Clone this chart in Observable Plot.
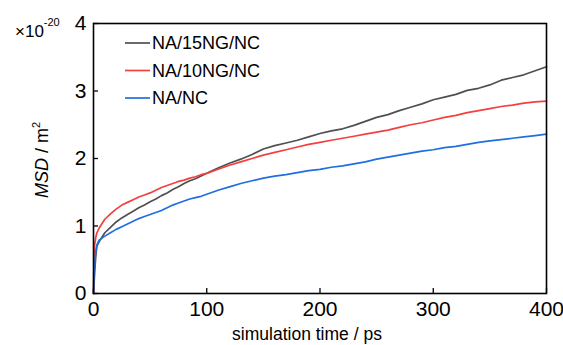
<!DOCTYPE html>
<html>
<head>
<meta charset="utf-8">
<script src="https://cdn.jsdelivr.net/npm/d3@7"></script>
<script src="https://cdn.jsdelivr.net/npm/@observablehq/plot@0.6"></script>
<style>
  html, body { margin: 0; padding: 0; background: white; }
  #chart { position: relative; width: 563px; height: 345px; }
</style>
</head>
<body>
<div id="chart"></div>
<script>
// ---- data ----
const seriesNames = ["NA/15NG/NC", "NA/10NG/NC", "NA/NC"];
const seriesColors = ["#505050", "#f2403f", "#1f6fe0"];

const time = [0, 0.5, 1, 2, 3, 5, 10, 15, 20, 25, 30, 35, 40, 45, 50, 55, 60, 65, 70, 75, 80, 85, 90, 95, 100,
  110, 120, 130, 140, 150, 160, 170, 180, 190, 200, 210, 220, 230, 240, 250, 260, 270, 280, 290, 300,
  310, 320, 330, 340, 350, 360, 370, 380, 390, 400];

const msd15NG = [0, 0.15, 0.3, 0.55, 0.7, 0.77, 0.9, 0.98, 1.06, 1.12, 1.17, 1.22, 1.27, 1.31, 1.36, 1.40, 1.45, 1.49, 1.54, 1.58, 1.63, 1.67, 1.70, 1.74, 1.78,
  1.86, 1.93, 1.99, 2.06, 2.14, 2.19, 2.23, 2.27, 2.32, 2.37, 2.41, 2.44, 2.49, 2.55, 2.61, 2.65, 2.71, 2.76, 2.81, 2.87,
  2.91, 2.95, 3.01, 3.04, 3.09, 3.16, 3.20, 3.24, 3.30, 3.36];

const msd10NG = [0, 0.6, 0.72, 0.83, 0.9, 0.97, 1.10, 1.18, 1.25, 1.31, 1.35, 1.39, 1.43, 1.46, 1.49, 1.53, 1.57, 1.60, 1.63, 1.66, 1.68, 1.71, 1.73, 1.76, 1.78,
  1.84, 1.90, 1.95, 2.00, 2.05, 2.09, 2.13, 2.17, 2.21, 2.24, 2.27, 2.30, 2.33, 2.36, 2.39, 2.42, 2.46, 2.50, 2.53, 2.57,
  2.61, 2.64, 2.68, 2.71, 2.74, 2.77, 2.79, 2.82, 2.84, 2.85];

const msdNC = [0, 0.3, 0.45, 0.62, 0.72, 0.79, 0.85, 0.90, 0.95, 0.99, 1.03, 1.07, 1.11, 1.14, 1.17, 1.20, 1.23, 1.27, 1.31, 1.34, 1.37, 1.40, 1.42, 1.44, 1.47,
  1.53, 1.58, 1.63, 1.67, 1.71, 1.74, 1.76, 1.79, 1.82, 1.84, 1.87, 1.89, 1.92, 1.95, 1.99, 2.02, 2.05, 2.08, 2.11, 2.13,
  2.16, 2.18, 2.21, 2.24, 2.26, 2.28, 2.30, 2.32, 2.34, 2.36];

const xTicks = [0, 100, 200, 300, 400];
const yTicks = [0, 1, 2, 3, 4];
const xLabel = "simulation time / ps";

// ---- build table ----
const seriesValues = [msd15NG, msd10NG, msdNC];
const rows = [];
seriesNames.forEach((name, i) => {
  time.forEach((t, j) => rows.push({series: name, t, v: seriesValues[i][j]}));
});

const W = 563, H = 345;
const mL = 93, mR = 17, mT = 23, mB = 52;
const tickLen = 5;
const narrow = "'Liberation Sans Narrow', 'Arial Narrow', 'Liberation Sans', Arial, sans-serif";
const sans = "'Liberation Sans', Arial, sans-serif";

const chart = Plot.plot({
  width: W, height: H,
  marginLeft: mL, marginRight: mR, marginTop: mT, marginBottom: mB,
  x: {domain: [0, 400]},
  y: {domain: [0, 4]},
  color: {domain: seriesNames, range: seriesColors},
  style: {fontFamily: narrow, fontSize: "21px", color: "black", background: "white", overflow: "visible"},
  marks: [
    Plot.axisX(xTicks, {tickSize: 0, tickPadding: 8, label: null, tickFormat: d => String(d), fontSize: 21}),
    Plot.axisY(yTicks, {tickSize: 0, tickPadding: 7, label: null, tickFormat: d => String(d), fontSize: 21}),
    // inward tick marks
    Plot.ruleX(xTicks, {x: d => d, insetTop: (H - mT - mB) - tickLen, stroke: "black", strokeWidth: 1.3}),
    Plot.ruleY(yTicks, {y: d => d, insetRight: (W - mL - mR) - tickLen, stroke: "black", strokeWidth: 1.3}),
    Plot.line(rows, {x: "t", y: "v", z: "series", stroke: "series", strokeWidth: 1.7, curve: "linear"}),
    Plot.frame({stroke: "black", strokeWidth: 1.6})
  ]
});

document.getElementById("chart").appendChild(chart);

const svg = d3.select(chart);

// x-axis title
svg.append("text")
  .attr("x", 307).attr("y", 340)
  .attr("text-anchor", "middle")
  .style("font-family", sans).style("font-size", "17.5px").attr("fill", "black")
  .text(xLabel);

// y-axis title: MSD / m^2
const yl = svg.append("text")
  .attr("transform", "translate(48,160) rotate(-90)")
  .attr("text-anchor", "middle")
  .style("font-family", sans).style("font-size", "18px").attr("fill", "black");
yl.append("tspan").style("font-style", "italic").text("MSD");
yl.append("tspan").text(" / m");
yl.append("tspan").attr("dy", -8).style("font-size", "11px").text("2");

// exponent factor ×10^-20
const ex = svg.append("text")
  .attr("x", 15).attr("y", 37)
  .attr("text-anchor", "start")
  .style("font-family", sans).style("font-size", "17px").attr("fill", "black");
ex.append("tspan").text("\u00d710");
ex.append("tspan").attr("dy", -11).style("font-size", "11px").style("font-family", narrow).text("-20");

// legend
const legendY = [43, 70.5, 98];
const lg = svg.append("g");
seriesNames.forEach((name, i) => {
  lg.append("line")
    .attr("x1", 125).attr("x2", 150)
    .attr("y1", legendY[i]).attr("y2", legendY[i])
    .attr("stroke", seriesColors[i]).attr("stroke-width", 1.7);
  lg.append("text")
    .attr("x", 152).attr("y", legendY[i] + 6)
    .attr("text-anchor", "start")
    .style("font-family", sans).style("font-size", "18px").attr("fill", "black")
    .text(name);
});
</script>
</body>
</html>
